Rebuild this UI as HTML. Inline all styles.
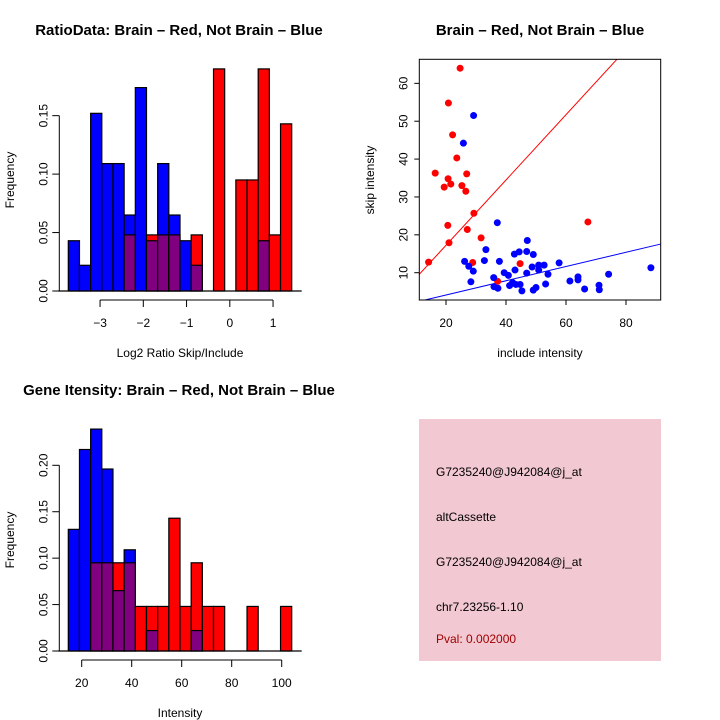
<!DOCTYPE html>
<html><head><meta charset="utf-8"><style>
body{margin:0;background:#fff}
svg{display:block;font-family:"Liberation Sans",sans-serif}
</style></head><body>
<svg id="c" width="720" height="720" xmlns="http://www.w3.org/2000/svg">
<rect width="720" height="720" fill="#fff"/>
<text x="179" y="35" font-size="15" font-weight="bold" text-anchor="middle">RatioData: Brain – Red, Not Brain – Blue</text>
<text x="540" y="35" font-size="15" font-weight="bold" text-anchor="middle">Brain – Red, Not Brain – Blue</text>
<text x="179" y="395" font-size="15" font-weight="bold" text-anchor="middle">Gene Itensity: Brain – Red, Not Brain – Blue</text>
<text x="180" y="357" font-size="12" text-anchor="middle">Log2 Ratio Skip/Include</text>
<text transform="translate(14,180) rotate(-90)" font-size="12" text-anchor="middle">Frequency</text>
<text x="540" y="357" font-size="12" text-anchor="middle">include intensity</text>
<text transform="translate(374,180) rotate(-90)" font-size="12" text-anchor="middle">skip intensity</text>
<text x="180" y="717" font-size="12" text-anchor="middle">Intensity</text>
<text transform="translate(14,540) rotate(-90)" font-size="12" text-anchor="middle">Frequency</text>
<g>
<rect x="419" y="419" width="242" height="242" fill="#f2c8d2"/>
<text x="436" y="476" font-size="12">G7235240@J942084@j_at</text>
<text x="436" y="521" font-size="12">altCassette</text>
<text x="436" y="566" font-size="12">G7235240@J942084@j_at</text>
<text x="436" y="611" font-size="12">chr7.23256-1.10</text>
<text x="436" y="643" font-size="12" fill="#a00000">Pval: 0.002000</text>
</g>
</svg>
<script>
// Ratio histogram data
const ratioBlue=[0.043,0.022,0.152,0.109,0.109,0.065,0.174,0.043,0.109,0.065,0.043,0.022,0,0,0,0,0,0.043,0,0];
const ratioRed=[0,0,0,0,0,0.048,0,0.048,0.048,0.048,0,0.048,0,0.190,0,0.095,0.095,0.190,0.048,0.143];
const ratioYTicks=[0,0.05,0.10,0.15];
const ratioYLabels=["0.00","0.05","0.10","0.15"];
const ratioXTicks=[-3,-2,-1,0,1];
// Intensity histogram data
const intBlue=[0.131,0.217,0.239,0.196,0.065,0.109,0,0.022,0,0,0,0.022,0,0,0,0,0,0,0,0];
const intRed=[0,0,0.095,0.095,0.095,0.095,0.048,0.048,0.048,0.143,0.048,0.095,0.048,0.048,0,0,0.048,0,0,0.048];
const intYTicks=[0,0.05,0.10,0.15,0.20];
const intYLabels=["0.00","0.05","0.10","0.15","0.20"];
const intXTicks=[20,40,60,80,100];
// Scatter data
const redX=[24.7,20.8,22.2,23.6,16.4,20.7,21.6,19.4,26.9,25.3,26.6,29.3,20.6,21.0,27.1,31.7,14.2,28.9,44.7,37.2,67.3];
const redY=[64.0,54.8,46.4,40.3,36.3,34.8,33.4,32.6,36.1,33.0,31.5,25.7,22.5,17.9,21.4,19.2,12.8,12.7,12.4,7.7,23.4];
const blueX=[29.2,25.8,37.1,47.1,33.3,42.8,44.4,46.9,49.1,26.2,32.8,37.8,27.6,29.1,43.0,48.7,50.9,52.7,57.7,50.9,46.9,39.4,40.8,54.0,28.3,35.9,42.2,43.3,44.7,41.2,36.0,37.3,45.3,49.1,50.0,53.2,61.3,64.0,64.0,66.2,71.0,71.1,74.2,88.3];
const blueY=[51.5,44.2,23.2,18.5,16.1,14.9,15.5,15.6,14.8,13.0,13.2,13.0,11.7,10.4,10.7,11.5,12.0,12.0,12.6,10.7,9.9,10.0,9.3,9.6,7.6,8.7,7.4,6.9,6.9,6.6,6.3,5.9,5.2,5.4,6.1,7.0,7.8,8.9,8.1,5.7,6.7,5.5,9.6,11.3];
const redSlope=0.862, blueSlope=0.188, blueIntercept=0.35;
const sxTicks=[20,40,60,80];
const syTicks=[10,20,30,40,50,60];

const svg=document.getElementById('c');
const NS='http://www.w3.org/2000/svg';
function mk(tag,attrs,parent){const e=document.createElementNS(NS,tag);for(const k in attrs)e.setAttribute(k,attrs[k]);(parent||svg).appendChild(e);return e;}

function hist(blue,red,x0,binW,yBase,yScale,name){
  const g=mk('g',{});
  
  
  for(let i=0;i<blue.length;i++){
    const b=blue[i],r=red[i];const hi=Math.max(b,r),lo=Math.min(b,r);
    if(hi<=0)continue;
    const x=x0+i*binW;
    const r1=mk('rect',{x:x,y:yBase-hi*yScale,width:binW,height:hi*yScale,fill:b>=r?'#0000ff':'#ff0000',stroke:'#000','stroke-width':1.2},g);
    
    
    if(lo>0){
      const r2=mk('rect',{x:x,y:yBase-lo*yScale,width:binW,height:lo*yScale,fill:'#800080',stroke:'#000','stroke-width':1.2},g);
      
      
    }
  }
  mk('line',{x1:x0-10,x2:x0+blue.length*binW+10,y1:yBase,y2:yBase,stroke:'#000','stroke-width':1.2},g);
}
function yAxis(ticks,labels,ax,yScale,yBase,name){
  const g=mk('g',{});
  
  
  mk('line',{x1:ax,x2:ax,y1:yBase-ticks[0]*yScale,y2:yBase-ticks[ticks.length-1]*yScale,stroke:'#000'},g);
  ticks.forEach((t,i)=>{const y=yBase-t*yScale;
    mk('line',{x1:ax-7,x2:ax,y1:y,y2:y,stroke:'#000'},g);
    const tx=mk('text',{transform:`translate(${ax-12},${y}) rotate(-90)`,'font-size':12,'text-anchor':'middle'},g);tx.textContent=labels[i];
    
    
  });
}
function xAxis(ticks,fx,ay,name,labels){
  const g=mk('g',{});
  
  
  mk('line',{x1:fx(ticks[0]),x2:fx(ticks[ticks.length-1]),y1:ay,y2:ay,stroke:'#000'},g);
  ticks.forEach((t,i)=>{const x=fx(t);
    mk('line',{x1:x,x2:x,y1:ay,y2:ay+7,stroke:'#000'},g);
    const tx=mk('text',{x:x,y:ay+27,'font-size':12,'text-anchor':'middle'},g);tx.textContent=labels?labels[i]:String(t).replace('-','−');
    
    
  });
}
// Ratio histogram
const rYS=1168.9, rBase=291;
hist(ratioBlue,ratioRed,68.3,11.17,rBase,rYS,'ratio');
yAxis(ratioYTicks,ratioYLabels,59.3,rYS,rBase,'ratio-y-axis');
xAxis(ratioXTicks,v=>229.8+v*43.25,300,'ratio-x-axis');
// Intensity histogram
const iYS=928.5, iBase=651;
hist(intBlue,intRed,68.3,11.17,iBase,iYS,'intensity');
yAxis(intYTicks,intYLabels,59.3,iYS,iBase,'intensity-y-axis');
xAxis(intXTicks,v=>81.7+(v-20)*2.5,660,'intensity-x-axis');
// Scatter
const sx=v=>446+(v-20)*3, sy=v=>272.7-(v-10)*3.787;
const L=419.3,R=660.7,T=59.3,B=300;
const xmin=(L-446)/3+20, xmax=(R-446)/3+20, ymax=(272.7-T)/3.787+10;
const cp=mk('clipPath',{id:'sc'});mk('rect',{x:L,y:T,width:R-L,height:B-T},cp);
const sg=mk('g',{'clip-path':'url(#sc)'});


const rl=mk('line',{x1:sx(xmin),y1:sy(redSlope*xmin),x2:sx(ymax/redSlope),y2:sy(ymax),stroke:'#ff0000'},sg);


const bl=mk('line',{x1:sx(xmin),y1:sy(blueSlope*xmin+blueIntercept),x2:sx(xmax),y2:sy(blueSlope*xmax+blueIntercept),stroke:'#0000ff'},sg);


redX.forEach((x,i)=>{const c=mk('circle',{cx:sx(x),cy:sy(redY[i]),r:3.5,fill:'#ff0000'},sg);
  
  });
blueX.forEach((x,i)=>{const c=mk('circle',{cx:sx(x),cy:sy(blueY[i]),r:3.5,fill:'#0000ff'},sg);
  
  });
const box=mk('rect',{x:L,y:T,width:R-L,height:B-T,fill:'none',stroke:'#000'});


const sxg=mk('g',{});


sxTicks.forEach(t=>{mk('line',{x1:sx(t),x2:sx(t),y1:B,y2:B+5,stroke:'#000'},sxg);
  const tx=mk('text',{x:sx(t),y:B+27,'font-size':12,'text-anchor':'middle'},sxg);tx.textContent=t;
  
  });
const syg=mk('g',{});


syTicks.forEach(t=>{mk('line',{x1:L-5,x2:L,y1:sy(t),y2:sy(t),stroke:'#000'},syg);
  const tx=mk('text',{transform:`translate(${L-12},${sy(t)}) rotate(-90)`,'font-size':12,'text-anchor':'middle'},syg);tx.textContent=t;
  
  });
</script>
</body></html>
